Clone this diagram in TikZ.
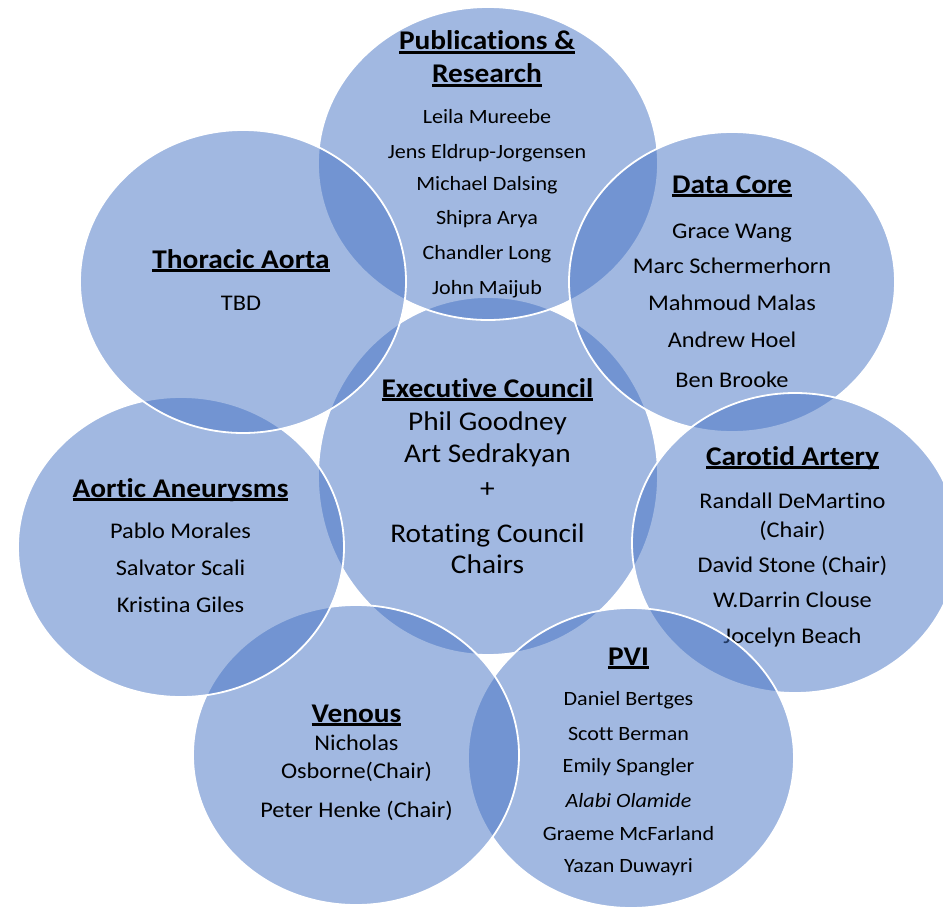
\documentclass[tikz,border=0pt]{standalone}
\usepackage{fontspec}
\setmainfont{Carlito}[FakeStretch=1.087,Ligatures=NoCommon]
\usetikzlibrary{shapes.geometric}
\definecolor{cblue}{HTML}{4472C4}
\newcommand\ulx[1]{\setbox0\hbox{#1}\rlap{\rule[-0.13em]{\wd0}{0.075em}}\box0}
\newcommand\nl{\kern0pt}
\tikzset{
  bub/.style={ellipse, fill=cblue, fill opacity=0.5, draw=white, line width=1.8pt, inner sep=0pt},
  ttl/.style={anchor=base, inner sep=0pt, font=\bfseries\fontsize{27}{30}\selectfont},
  nmb/.style={anchor=base, inner sep=0pt, font=\fontsize{27}{30}\selectfont},
  nm/.style={anchor=base, inner sep=0pt, font=\fontsize{22.4}{26}\selectfont},
  nms/.style={anchor=base, inner sep=0pt, font=\fontsize{20.3}{24}\selectfont},
}
\begin{document}
\begin{tikzpicture}[x=1pt,y=-1pt]
\useasboundingbox (0,0) rectangle (943,907);
\fill[white] (0,0) rectangle (943,907);
% Executive council
\node[bub, minimum width=340pt, minimum height=358pt] (exec) at (488,476) {};
\node[ttl] (ex0) at (487.5,397) {\ulx{Executive Council}};
\node[nmb] (ex1) at (487.5,430) {Phil Goodney};
\node[nmb] (ex2) at (487.5,462) {Art Sedrakyan};
\node[nmb] (ex3) at (487.5,497) {+};
\node[nmb] (ex4) at (487.5,542) {Rotat\nl ing Council};
\node[nmb] (ex5) at (487.5,573) {Chairs};
% Publications
\node[bub, minimum width=340pt, minimum height=313pt] (pub) at (488,163.5) {};
\node[ttl] (pu0) at (487,50) {\ulx{Publications \&}};
\node[ttl] (pu1) at (487,83) {\ulx{Research}};
\node[nms] (pu2) at (487,123) {Leila Mureebe};
\node[nms] (pu3) at (487,158) {Jens Eldrup-Jorgensen};
\node[nms] (pu4) at (487,190) {Michael Dalsing};
\node[nms] (pu5) at (487,224) {Shipra Arya};
\node[nms] (pu6) at (487,259) {Chandler Long};
\node[nms] (pu7) at (487,294) {John Maijub};
% Data core
\node[bub, minimum width=326pt, minimum height=300pt] (data) at (732,282) {};
\node[ttl] (da0) at (732,193) {\ulx{Data Core}};
\node[nm] (da1) at (732,238) {Grace Wang};
\node[nm] (da2) at (732,273) {Marc Schermerhorn};
\node[nm] (da3) at (732,310) {Mahmoud Malas};
\node[nm] (da4) at (732,347) {Andrew Hoel};
\node[nm] (da5) at (732,387) {Ben Brooke};
% Carotid
\node[bub, minimum width=326pt, minimum height=300pt] (car) at (795,543) {};
\node[ttl] (ca0) at (792.5,465) {\ulx{Carot\nl id Artery}};
\node[nm] (ca1) at (792.5,508) {Randall DeMart\nl ino};
\node[nm] (ca2) at (792.5,537) {(Chair)};
\node[nm] (ca3) at (792.5,572) {David Stone (Chair)};
\node[nm] (ca4) at (792.5,607) {W.Darrin Clouse};
\node[nm] (ca5) at (792.5,643) {Jocelyn Beach};
% PVI
\node[bub, minimum width=326pt, minimum height=300pt] (pvi) at (631,758) {};
\node[ttl] (pv0) at (628.5,665) {\ulx{PVI}};
\node[nms] (pv1) at (628.5,705) {Daniel Bertges};
\node[nms] (pv2) at (628.5,740) {Scott Berman};
\node[nms] (pv3) at (628.5,772) {Emily Spangler};
\node[nms] (pv4) at (628.5,807) {\itshape Alabi Olamide};
\node[nms] (pv5) at (628.5,840) {Graeme McFarland};
\node[nms] (pv6) at (628.5,872) {Yazan Duwayri};
% Venous
\node[bub, minimum width=326pt, minimum height=300pt] (ven) at (356,755) {};
\node[ttl] (ve0) at (356.5,722) {\ulx{Venous}};
\node[nm] (ve1) at (356.5,750) {Nicholas};
\node[nm] (ve2) at (356.5,778) {Osborne(Chair)};
\node[nm] (ve3) at (356.5,817) {Peter Henke (Chair)};
% Aortic aneurysms
\node[bub, minimum width=326pt, minimum height=300pt] (aor) at (181,547) {};
\node[ttl] (ao0) at (180.5,497) {\ulx{Aort\nl ic Aneurysms}};
\node[nm] (ao1) at (180.5,538) {Pablo Morales};
\node[nm] (ao2) at (180.5,575) {Salvator Scali};
\node[nm] (ao3) at (180.5,612) {Krist\nl ina Giles};
% Thoracic aorta
\node[bub, minimum width=326pt, minimum height=303pt] (tho) at (243,281.5) {};
\node[ttl] (th0) at (241,268) {\ulx{Thoracic Aorta}};
\node[nm] (th1) at (241,310) {TBD};
\end{tikzpicture}
\end{document}
